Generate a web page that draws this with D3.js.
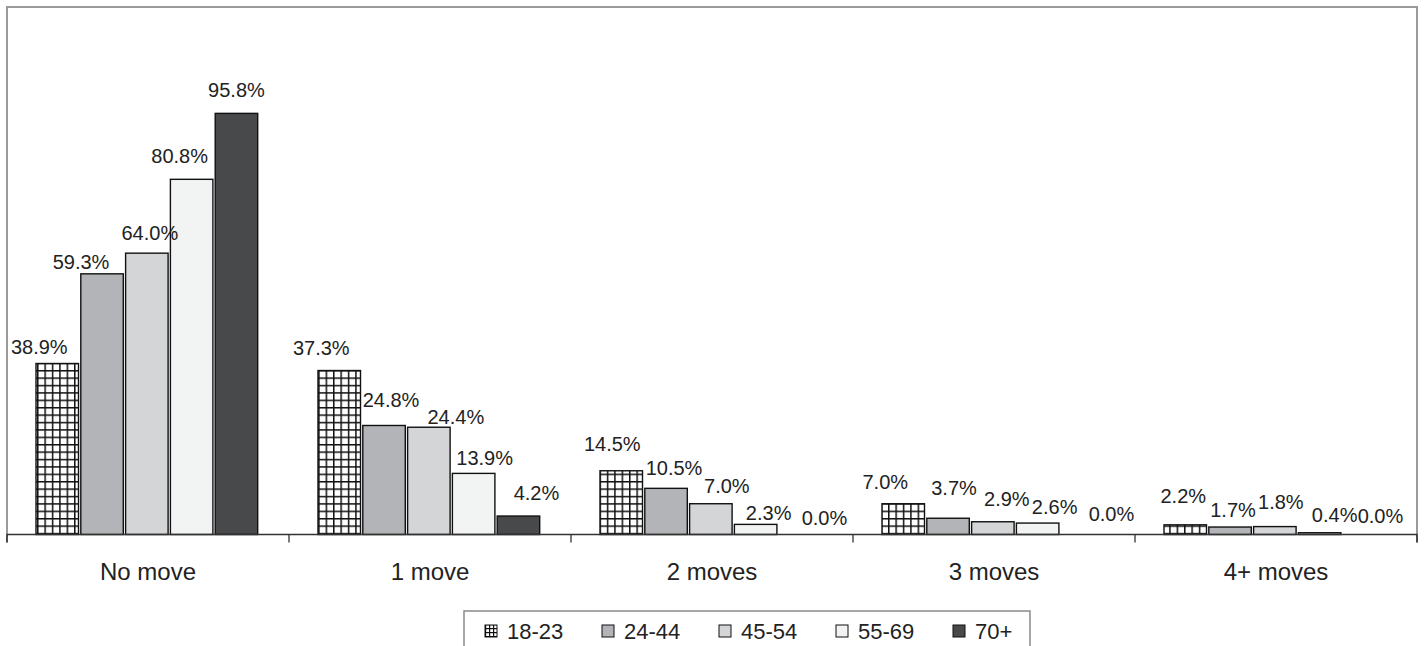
<!DOCTYPE html>
<html>
<head>
<meta charset="utf-8">
<script src="https://cdn.jsdelivr.net/npm/d3@7"></script>
<style>
  html, body { margin: 0; padding: 0; background: #fff; }
  svg { display: block; font-family: "Liberation Sans", Arial, sans-serif; }
</style>
</head>
<body>
<svg id="chart" width="1424" height="646"></svg>
<script>
// ---- data ----
const categories = ["No move", "1 move", "2 moves", "3 moves", "4+ moves"];
const series = ["18-23", "24-44", "45-54", "55-69", "70+"];
const values18_23 = [38.9, 37.3, 14.5, 7.0, 2.2];
const values24_44 = [59.3, 24.8, 10.5, 3.7, 1.7];
const values45_54 = [64.0, 24.4, 7.0, 2.9, 1.8];
const values55_69 = [80.8, 13.9, 2.3, 2.6, 0.4];
const values70p   = [95.8, 4.2, 0.0, 0.0, 0.0];
const seriesValues = [values18_23, values24_44, values45_54, values55_69, values70p];

// label placement tweaks (offsets from the default label spot), per series x category
const labelDx = [
  [-18, -18, -9, -18, -2],
  [-21,   7,  8,   6,  3],
  [  3,  27, 16,  14,  6],
  [-12,  11, 13,  17, 15],
  [  0,  18, 24,  29, 16]
];
const labelDy = [
  [ 6,  0, -4,  1, -6],
  [11, -2,  3, -7,  6],
  [ 3, 13,  5,  0, -2],
  [ 0,  8, 12,  7,  5],
  [ 0,  0,  6,  2,  4]
];

// ---- styles ----
const fills = ["url(#hatch)", "#b3b4b8", "#d4d5d7", "#f2f3f3", "#48494b"];
const legendFills = ["url(#hatchSmall)", "#b3b4b8", "#d4d5d7", "#f2f3f3", "#48494b"];
const textColor = "#222";

const svg = d3.select("#chart");
const defs = svg.append("defs");

function makeHatch(id, size, sw) {
  const p = defs.append("pattern").attr("id", id)
    .attr("patternUnits", "userSpaceOnUse")
    .attr("width", size).attr("height", size);
  p.append("rect").attr("width", size).attr("height", size).attr("fill", "#fff");
  p.append("line").attr("x1", 0).attr("x2", size).attr("y1", sw/2).attr("y2", sw/2)
    .attr("stroke", "#111").attr("stroke-width", sw);
  p.append("line").attr("y1", 0).attr("y2", size).attr("x1", sw/2).attr("x2", sw/2)
    .attr("stroke", "#111").attr("stroke-width", sw);
}
makeHatch("hatch", 7.4, 1.5);
makeHatch("hatchSmall", 4, 1.2);

// ---- scales ----
const plotLeft = 7, plotRight = 1417, plotTop = 7, baseline = 534.5;
const x0 = d3.scaleBand().domain(categories).range([plotLeft, plotRight]).padding(0);
const x1 = d3.scaleBand().domain(series).range([29, x0.bandwidth() - 29]).padding(0);
const y = d3.scaleLinear().domain([0, 120]).range([baseline, plotTop]);
const barW = x1.bandwidth() - 2.3;

// ---- frame ----
svg.append("path")
  .attr("d", `M${plotLeft},${baseline} V${plotTop} H${plotRight} V${baseline}`)
  .attr("fill", "none").attr("stroke", "#9a9a9a").attr("stroke-width", 2);

// ---- bars ----
const rows = [];
series.forEach((s, si) => categories.forEach((c, ci) => rows.push({s, si, c, ci, v: seriesValues[si][ci]})));

svg.append("g").selectAll("rect").data(rows.filter(d => d.v > 0)).join("rect")
  .attr("x", d => x0(d.c) + x1(d.s))
  .attr("y", d => y(d.v))
  .attr("width", barW)
  .attr("height", d => baseline - y(d.v))
  .attr("fill", d => fills[d.si])
  .attr("stroke", "#111")
  .attr("stroke-width", 1.4);

// ---- axis ----
const xAxis = d3.axisBottom(x0).tickSize(8).tickFormat("");
const axisG = svg.append("g").attr("transform", `translate(0,${baseline})`).call(xAxis);
axisG.select(".domain").attr("d", `M${plotLeft},8 V0 H${plotRight} V8`).attr("stroke", "#333").attr("stroke-width", 1.3);
// ticks at category boundaries rather than centres
axisG.selectAll(".tick").remove();
axisG.selectAll("line.bound").data(categories.concat(["end"])).join("line")
  .attr("class", "bound")
  .attr("x1", (d, i) => i < categories.length ? x0(d) : x0.range()[1])
  .attr("x2", (d, i) => i < categories.length ? x0(d) : x0.range()[1])
  .attr("y1", 0).attr("y2", 8)
  .attr("stroke", "#333").attr("stroke-width", 1.3);

svg.append("g").selectAll("text").data(categories).join("text")
  .attr("x", d => x0(d) + x0.bandwidth() / 2)
  .attr("y", 580)
  .attr("text-anchor", "middle")
  .attr("font-size", 24)
  .attr("fill", textColor)
  .text(d => d);

// ---- value labels ----
svg.append("g").selectAll("text").data(rows).join("text")
  .attr("x", d => x0(d.c) + x1(d.s) + barW / 2 + labelDx[d.si][d.ci])
  .attr("y", d => y(d.v) - 16 + labelDy[d.si][d.ci])
  .attr("text-anchor", "middle")
  .attr("font-size", 20)
  .attr("fill", textColor)
  .text(d => d3.format(".1f")(d.v) + "%");

// ---- legend ----
svg.append("rect")
  .attr("x", 464).attr("y", 611).attr("width", 566).attr("height", 60)
  .attr("fill", "#fff").attr("stroke", "#8a8a8a").attr("stroke-width", 1.5);

const lx = d3.scaleBand().domain(series).range([480, 1065]);
const lg = svg.append("g").selectAll("g").data(series).join("g")
  .attr("transform", d => `translate(${lx(d) + 5},0)`);
lg.append("rect")
  .attr("x", 0).attr("y", 625).attr("width", 12).attr("height", 12)
  .attr("fill", (d, i) => legendFills[i])
  .attr("stroke", "#111").attr("stroke-width", 1);
lg.append("text")
  .attr("x", 22).attr("y", 639)
  .attr("font-size", 22)
  .attr("fill", textColor)
  .text(d => d);
</script>
</body>
</html>
